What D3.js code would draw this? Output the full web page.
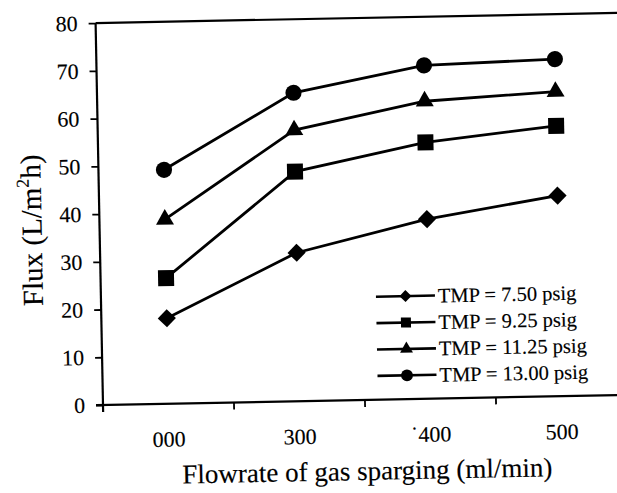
<!DOCTYPE html>
<html><head><meta charset="utf-8">
<script src="https://cdn.jsdelivr.net/npm/d3@7"></script>
<style>body{margin:0;background:#fff}svg{display:block}text{font-family:"Liberation Serif","Times New Roman",serif;fill:#000;stroke:#000;stroke-width:0.15px}</style>
</head><body>
<svg id="chart" width="617" height="493"></svg>
<script>
const categories = ["000", "300", "400", "500"];
const tickLabels = ["000", "300", "\u02D9400", "500"];
const seriesNames = ["TMP = 7.50 psig", "TMP = 9.25 psig", "TMP = 11.25 psig", "TMP = 13.00 psig"];
const tmp750 = [17.9, 31.1, 37.6, 42.0];
const tmp925 = [26.3, 48.1, 53.7, 56.6];
const tmp1125 = [38.6, 56.8, 62.3, 63.8];
const tmp1300 = [49.0, 64.6, 69.8, 70.6];
const yTicks = [0, 10, 20, 30, 40, 50, 60, 70, 80];
const markers = ["diamond", "square", "triangle", "circle"];

const series = [tmp750, tmp925, tmp1125, tmp1300].map((v, i) => ({name: seriesNames[i], values: v, marker: markers[i]}));

const svg = d3.select("#chart");
svg.append("rect").attr("width", 617).attr("height", 493).attr("fill", "#fff");
const pL = 103, pB = 405, pT = 23, pR = 627;
const g = svg.append("g").attr("transform", `rotate(-1.11 ${pL} ${pB})`);

const x = d3.scaleBand().domain(categories).range([pL, pR]).padding(0);
const y = d3.scaleLinear().domain([0, 80]).range([pB, pT]);

function symbolPath(type, big) {
  if (type === "circle") return d3.symbol(d3.symbolCircle, big ? 205 : 110)();
  if (type === "square") return d3.symbol(d3.symbolSquare, big ? 256 : 100)();
  if (type === "triangle") return d3.symbol(d3.symbolTriangle, big ? 140 : 72)();
  return d3.symbol(d3.symbolSquare, big ? 165 : 72)();
}
function symbolRot(type) { return type === "diamond" ? " rotate(45)" : ""; }

// frame: top border
g.append("line").attr("x1", pL).attr("x2", pR).attr("y1", pT).attr("y2", pT)
  .attr("stroke", "#000").attr("stroke-width", 2.2);

// y axis
const yAxis = g.append("g").attr("transform", `translate(${pL},0)`)
  .call(d3.axisLeft(y).tickValues(yTicks).tickSize(7).tickPadding(11).tickFormat(d3.format("d")));
yAxis.select(".domain").attr("stroke-width", 2.2).attr("d", `M0,${pT}V${pB + 7}`);
yAxis.selectAll(".tick line").attr("stroke-width", 1.8);
yAxis.selectAll("text").attr("font-size", 22).attr("font-family", "Liberation Serif");

// x axis
const xAxis = g.append("g");
xAxis.append("line").attr("x1", pL - 7).attr("x2", pR).attr("y1", pB).attr("y2", pB)
  .attr("stroke", "#000").attr("stroke-width", 2.2);
xAxis.selectAll("line.tk").data(categories).join("line").attr("class", "tk")
  .attr("x1", d => x(d)).attr("x2", d => x(d)).attr("y1", pB).attr("y2", pB + 7)
  .attr("stroke", "#000").attr("stroke-width", 1.8);
xAxis.selectAll("text").data(categories).join("text")
  .attr("x", d => x(d) + x.bandwidth() / 2).attr("y", 448)
  .attr("text-anchor", "middle").attr("font-size", 22)
  .text((d, i) => tickLabels[i]);

// axis titles
g.append("text").attr("x", 366).attr("y", 485).attr("text-anchor", "middle")
  .attr("font-size", 27).text("Flowrate of gas sparging (ml/min)");
const yt = g.append("text").attr("transform", "translate(45,229) rotate(-90)")
  .attr("text-anchor", "middle").attr("font-size", 29);
yt.append("tspan").text("Flux (L/m");
yt.append("tspan").attr("font-size", 18).attr("dy", -12).text("2");
yt.append("tspan").attr("dy", 12).text("h)");

// series
const line = d3.line().x((d, i) => x(categories[i]) + x.bandwidth() / 2).y(d => y(d));
series.forEach(s => {
  g.append("path").attr("d", line(s.values)).attr("fill", "none")
    .attr("stroke", "#000").attr("stroke-width", 2.8);
  g.selectAll(null).data(s.values).join("path")
    .attr("transform", (d, i) => `translate(${x(categories[i]) + x.bandwidth() / 2},${y(d)})${symbolRot(s.marker)}`)
    .attr("d", symbolPath(s.marker, true)).attr("fill", "#000");
});

// legend
const lg = g.append("g").attr("transform", "translate(378,302)");
series.forEach((s, i) => {
  const row = lg.append("g").attr("transform", `translate(0,${i * 26.4})`);
  row.append("line").attr("x1", 0).attr("x2", 59).attr("y1", 0).attr("y2", 0)
    .attr("stroke", "#000").attr("stroke-width", 2.6);
  row.append("path").attr("transform", `translate(29.5,0)${symbolRot(s.marker)}`)
    .attr("d", symbolPath(s.marker, false)).attr("fill", "#000");
  row.append("text").attr("x", 62).attr("y", 7).attr("font-size", 20.5).text(s.name);
});
</script>
</body></html>
